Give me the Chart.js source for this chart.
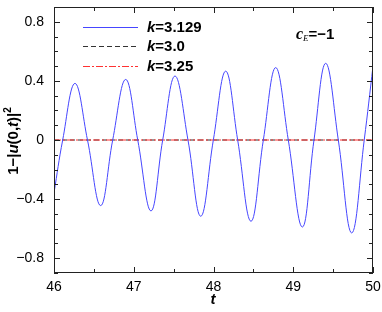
<!DOCTYPE html>
<html>
<head>
<meta charset="utf-8">
<script src="https://cdn.jsdelivr.net/npm/chart.js@4/dist/chart.umd.min.js"></script>
<style>
html,body{margin:0;padding:0;background:#fff}
#wrap{width:382px;height:312px}
</style>
</head>
<body>
<div id="wrap"><canvas id="c" width="382" height="312"></canvas></div>
<script>
// DATA
const tBlue=[46.00,46.109,46.263,46.42,46.585,46.736,46.899,47.05,47.216,47.363,47.517,47.68,47.84,47.998,48.153,48.303,48.47,48.625,48.78,48.938,49.114,49.26,49.407,49.565,49.733,49.89,50.00];
const yBlue=[-0.358,0,0.383,0,-0.444,0,0.41,0,-0.48,0,0.433,0,-0.516,0,0.466,0,-0.55,0,0.49,0,-0.589,0,0.519,0,-0.629,0,0.50];
const tFlat=[46,46.5,47,47.5,48,48.5,49,49.5,50];
const yK30=[0,0,0,0,0,0,0,0,0];
const yK325=[0,0,0,0,0,0,0,0,0];
const labels=['3.129','3.0','3.25'];
const xTicks=[46,47,48,49,50];
const yTicks=[-0.8,-0.4,0,0.4,0.8];

const pts=(xs,ys)=>xs.map((x,i)=>({x,y:ys[i]}));
const SANS='"Liberation Sans", Arial, sans-serif';
const SERIF='"Liberation Serif", "Times New Roman", serif';

// draw a run of text pieces [text,font,dy]
function drawRich(ctx,parts,x,y,align){
  let w=0;
  parts.forEach(p=>{ctx.font=p[1];w+=ctx.measureText(p[0]).width});
  let cx=align==='center'?x-w/2:x;
  parts.forEach(p=>{ctx.font=p[1];ctx.fillText(p[0],cx,y+(p[2]||0));cx+=ctx.measureText(p[0]).width});
}

const frame={
  id:'frame',
  afterDatasetsDraw(chart){
    const {ctx,chartArea:a,scales:{x,y}}=chart;
    ctx.save();
    ctx.strokeStyle='#222';ctx.lineWidth=1;
    ctx.strokeRect(a.left+0.5,a.top+0.5,a.right-a.left-1,a.bottom-a.top-1);
    ctx.beginPath();
    for(let v=46;v<=50.001;v+=0.5){
      const px=Math.round(x.getPixelForValue(v))+0.5;
      const len=Math.abs(v-Math.round(v))<1e-6?6:4;
      ctx.moveTo(px,a.bottom);ctx.lineTo(px,a.bottom-len);
      ctx.moveTo(px,a.top);ctx.lineTo(px,a.top+len);
    }
    for(let i=-9;i<=9;i++){
      const v=i/10;
      const py=Math.round(y.getPixelForValue(v))+0.5;
      const len=i%4===0?6:4;
      ctx.moveTo(a.left,py);ctx.lineTo(a.left+len,py);
      ctx.moveTo(a.right,py);ctx.lineTo(a.right-len,py);
    }
    ctx.stroke();

    // legend
    ctx.fillStyle='#000';ctx.textBaseline='middle';
    const rows=[27,46,66];
    chart.data.datasets.forEach((ds,i)=>{
      ctx.beginPath();
      ctx.strokeStyle=ds.borderColor;ctx.lineWidth=ds.borderWidth;
      ctx.setLineDash(ds.borderDash||[]);
      ctx.moveTo(83,rows[i]+0.5);ctx.lineTo(138,rows[i]+0.5);ctx.stroke();
      ctx.setLineDash([]);
      drawRich(ctx,[['k','italic bold 15px '+SANS],['='+labels[i],'bold 15px '+SANS]],147,rows[i]+1,'left');
    });

    // c_E = -1
    drawRich(ctx,[['c','italic bold 16px '+SERIF],['E','italic 9px '+SERIF,4],['=\u22121','bold 15px '+SANS]],296,35,'left');

    // x title
    drawRich(ctx,[['t','italic bold 15px '+SANS]],213,300,'center');

    // y title
    ctx.translate(14,141);ctx.rotate(-Math.PI/2);
    const f='bold 15px '+SANS, fi='italic bold 15px '+SANS;
    drawRich(ctx,[['1\u2212|',f],['u',fi],['(0,',f],['t',fi],[')|',f],['2','bold 10px '+SANS,-6]],0,0,'center');
    ctx.restore();
  }
};

new Chart(document.getElementById('c'),{
  type:'line',
  data:{datasets:[
    {label:'k=3.129',data:pts(tBlue,yBlue),borderColor:'rgb(70,70,255)',borderWidth:1,pointRadius:0,tension:0.4,order:0},
    {label:'k=3.0',data:pts(tFlat,yK30),borderColor:'#333',borderWidth:1,borderDash:[5,3],pointRadius:0,order:2},
    {label:'k=3.25',data:pts(tFlat,yK325),borderColor:'rgb(255,50,50)',borderWidth:1.2,borderDash:[7,2,2,2],pointRadius:0,order:1}
  ]},
  options:{
    responsive:false,animation:false,
    layout:{padding:{top:7,right:9,left:0,bottom:0}},
    plugins:{legend:{display:false},tooltip:{enabled:false}},
    scales:{
      x:{type:'linear',min:46,max:50,
        grid:{display:false,drawTicks:false},border:{display:false},
        afterBuildTicks:s=>{s.ticks=xTicks.map(v=>({value:v}))},
        afterFit:s=>{s.height=39;s.paddingLeft=0;s.paddingRight=0},
        ticks:{color:'#000',font:{family:SANS,size:14},padding:6,maxRotation:0}},
      y:{type:'linear',min:-0.9,max:0.9,
        grid:{display:false,drawTicks:false},border:{display:false},
        afterBuildTicks:s=>{s.ticks=yTicks.map(v=>({value:v}))},
        afterFit:s=>{s.width=54;s.paddingTop=0;s.paddingBottom=0},
        ticks:{color:'#000',font:{family:SANS,size:14},padding:10,
          callback:v=>v===0?'0':(v<0?'\u2212'+Math.abs(v):String(v))}}
    }
  },
  plugins:[frame]
});
</script>
</body>
</html>
